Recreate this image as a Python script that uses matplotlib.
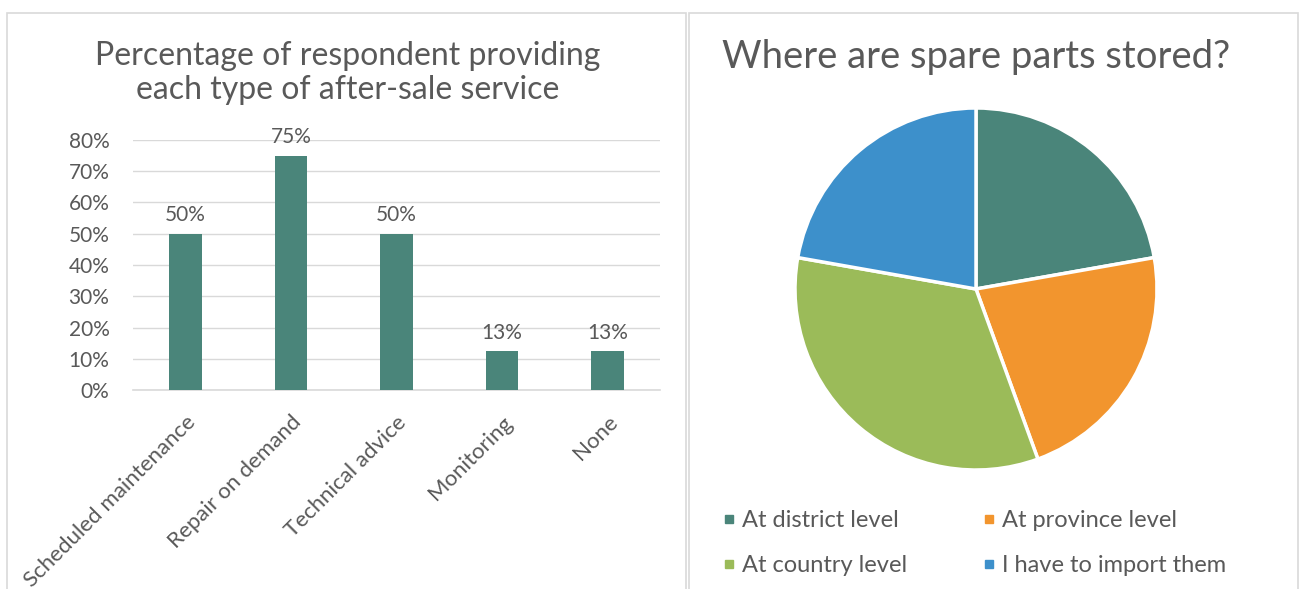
import matplotlib
matplotlib.use("Agg")
import matplotlib.pyplot as plt
from matplotlib.patches import Rectangle
from matplotlib.lines import Line2D
from matplotlib.ticker import PercentFormatter

services = ["Scheduled maintenance", "Repair on demand", "Technical advice", "Monitoring", "None"]
service_share = [0.50, 0.75, 0.50, 0.125, 0.125]
service_labels = ["50%", "75%", "50%", "13%", "13%"]

storage = ["At district level", "At province level", "At country level", "I have to import them"]
storage_count = [2, 2, 3, 2]
storage_colors = ["#4a857a", "#f2952e", "#9bbb59", "#3d90cb"]

W, H = 1304, 589
txt = "#595959"
grid = "#d9d9d9"
plt.rcParams['font.family'] = ['Lato', 'DejaVu Sans']

fig = plt.figure(figsize=(W / 100, H / 100), dpi=100)

def px(x0, y0, x1, y1):                     # pixel box (top-left origin) -> figure fraction
    return [x0 / W, 1 - y1 / H, (x1 - x0) / W, (y1 - y0) / H]

# panel borders
for x0, x1 in [(7, 686), (689, 1298)]:
    fig.patches.append(Rectangle((x0 / W, -0.05), (x1 - x0) / W, 1.05 - 13 / H,
                                 transform=fig.transFigure, fill=False,
                                 edgecolor=grid, linewidth=1.2))

# bar chart
ax = fig.add_axes(px(133, 140, 660, 390))
x = range(len(services))
bars = ax.bar(x, service_share, width=0.31, color="#4a857a", zorder=3)
for b, lab in zip(bars, service_labels):
    ax.annotate(lab, (b.get_x() + b.get_width() / 2, b.get_height()),
                xytext=(0, 6), textcoords="offset points",
                ha="center", va="bottom", fontsize=15, color=txt)
ax.set_ylim(0, 0.8)
ax.set_xlim(-0.5, len(services) - 0.5)
ax.set_yticks([i / 10 for i in range(9)])
ax.yaxis.set_major_formatter(PercentFormatter(1.0, decimals=0))
ax.grid(axis="y", color=grid, linewidth=1, zorder=0)
for s in ["top", "right", "left"]:
    ax.spines[s].set_visible(False)
ax.spines["bottom"].set_color(grid)
ax.spines["bottom"].set_linewidth(1.2)
ax.tick_params(axis="y", length=0, pad=17, labelsize=15, labelcolor=txt)
ax.tick_params(axis="x", length=0, pad=16, labelsize=16, labelcolor=txt)
ax.set_xticks(list(x))
ax.set_xticklabels(services, rotation=45, ha="right", va="top", rotation_mode="anchor")

fig.text(348 / W, 1 - 73 / H, "Percentage of respondent providing\neach type of after-sale service",
         ha="center", va="center", fontsize=23, color=txt, linespacing=1.2)

# pie chart
r = 181
pax = fig.add_axes(px(976 - r, 289 - r, 976 + r, 289 + r))
pax.pie(storage_count, colors=storage_colors, startangle=90, counterclock=False,
        wedgeprops=dict(edgecolor="white", linewidth=2.5))
pax.set_xlim(-1, 1)
pax.set_ylim(-1, 1)

fig.text(976 / W, 1 - 57 / H, "Where are spare parts stored?",
         ha="center", va="center", fontsize=27.5, color=txt)

# legend fills column by column, so order the entries for row-major reading
order = [0, 2, 1, 3]
handles = [Line2D([], [], marker="s", linestyle="", markersize=6, color=storage_colors[i]) for i in order]
fig.legend(handles, [storage[i] for i in order], ncol=2, loc="center left",
           bbox_to_anchor=(702 / W, 1 - 543 / H), frameon=False,
           fontsize=17, labelcolor=txt, handlelength=0.5, handletextpad=0.3,
           columnspacing=3.2, labelspacing=1.0)

fig.savefig("out.png", dpi=100, facecolor="white")
